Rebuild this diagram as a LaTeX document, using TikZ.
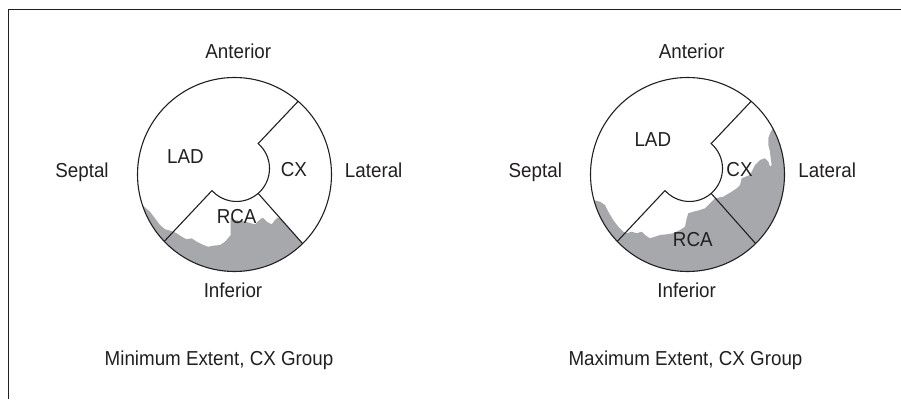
\documentclass[tikz,border=0pt]{standalone}
\usepackage{fontspec}
\setmainfont[FakeStretch=0.93]{Liberation Sans}

\definecolor{ink}{RGB}{35,31,32}
\definecolor{infarct}{RGB}{166,168,171}

\tikzset{
  wall/.style={draw=ink, line width=1.1pt},
  frame/.style={draw=ink, line width=1.3pt},
  lbl/.style={inner sep=0pt, text height=14.5pt, text depth=0pt, text=ink,
              font=\fontsize{20.2}{24}\selectfont},
}

\newcommand{\drawwalls}{%
  \draw [wall] (0,0) circle [radius=97];
  \draw [wall] (49:97) -- (23.65,30.9) arc [start angle=49, end angle=-138, radius=33] -- (-136.4:97);
  \draw [wall] (23.65,-18.9) -- (-45.4:97);
}

\begin{document}
\begin{tikzpicture}[x=1pt,y=1pt]
\useasboundingbox (0,0) rectangle (901,399);
\draw [frame] (8.3,0) -- (8.3,389.7) -- (901,389.7);

\begin{scope}[shift={(234.5,224.5)}]
  \fill [infarct] (-161.4:97) -- (-84.5,-37.2) -- (-79.5,-43.8) -- (-74.5,-50.5) -- (-69.5,-54.8)
    -- (-62.8,-56.5) -- (-57.8,-58.8) -- (-52.8,-62.2) -- (-47.8,-64.8) -- (-42.8,-63.8)
    -- (-37.8,-67.2) -- (-31.2,-70.5) -- (-26.2,-72.2) -- (-21.2,-71.2) -- (-14.5,-70.5)
    -- (-9.5,-67.2) -- (-5.2,-62.2) -- (-3.8,-60.5) -- (-3.8,-43.2) -- (0.5,-45.5)
    -- (10.5,-47.2) -- (20.5,-49.8) -- (24.8,-45.5) -- (28.2,-43.2) -- (32.2,-47.2)
    -- (37.2,-49.8) -- (40.5,-45.5) -- (42.8,-43.2) -- (45.5,-43.5)
    -- (-45.4:97) arc [start angle=-45.4, end angle=-161.4, radius=97] -- cycle;
  \drawwalls
  \node [lbl] (ant1) at (3.8,123) {Anterior};
  \node [lbl] (sep1) at (-152.5,4.2) {Septal};
  \node [lbl] (lat1) at (139.2,4.2) {Lateral};
  \node [lbl] (inf1) at (-1.5,-115.5) {Inferior};
  \node [lbl] (lad1) at (-49,17.8) {LAD};
  \node [lbl] (cx1) at (59.3,5.7) {CX};
  \node [lbl] (rca1) at (2.2,-42.2) {RCA};
  \node [lbl] (cap1) at (-15.5,-184.2) {Minimum Extent, CX Group};
\end{scope}

\begin{scope}[shift={(687.5,224.5)}]
  \fill [infarct] (-164.6:97) -- (-87.5,-27.2) -- (-82.5,-30.5) -- (-79.2,-37.2) -- (-74.2,-45.5)
    -- (-69.2,-52.2) -- (-64.2,-57.2) -- (-60.8,-58.8) -- (-55.8,-57.2) -- (-50.8,-58.8)
    -- (-45.8,-57.2) -- (-42.5,-60.5) -- (-37.5,-63.8) -- (-32.5,-62.2) -- (-27.5,-60.5)
    -- (-20.8,-59.8) -- (-14.2,-58.8) -- (-7.5,-55.5) -- (-2.5,-52.2) -- (-0.8,-43.8)
    -- (0.8,-38.8) -- (5.8,-37.2) -- (12.5,-35.5) -- (17.5,-33.8) -- (20.8,-30.5)
    -- (24.2,-27.2) -- (27.5,-23.8) -- (35.8,-22.2) -- (44.2,-17.2) -- (49.2,-13.8)
    -- (52.5,-10.5) -- (54.2,-3.8) -- (62.5,-0.5) -- (67.5,9.5) -- (72.5,14.5)
    -- (77.5,16.2) -- (80.8,12.8) -- (82.5,7.8) -- (84.2,9.5) -- (83.2,16.2)
    -- (82.5,22.8) -- (80.8,29.5) -- (80.8,36.2) -- (82.5,41.2) -- (84.2,44.5)
    -- (28.3:97) arc [start angle=28.3, end angle=-164.6, radius=97] -- cycle;
  \drawwalls
  \node [lbl] (ant2) at (4.2,123) {Anterior};
  \node [lbl] (sep2) at (-152.2,4.2) {Septal};
  \node [lbl] (lat2) at (139.7,4.2) {Lateral};
  \node [lbl] (inf2) at (-0.8,-115.5) {Inferior};
  \node [lbl] (lad2) at (-34.7,35) {LAD};
  \node [lbl] (cx2) at (52,5.7) {CX};
  \node [lbl] (rca2) at (5.3,-64.7) {RCA};
  \node [lbl] (cap2) at (-2,-184.2) {Maximum Extent, CX Group};
\end{scope}
\end{tikzpicture}
\end{document}
